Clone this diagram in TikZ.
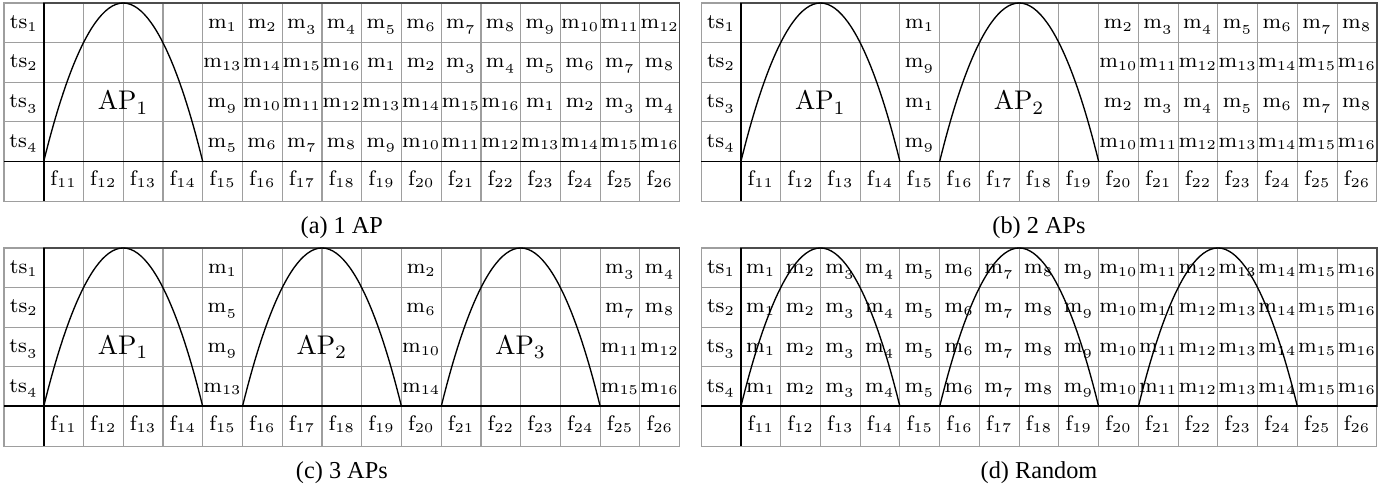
\documentclass[tikz,border=0pt]{standalone}
\usepackage{fontspec}
\newfontfamily\capfont{Liberation Serif}
% label with subscript, digits 3-9 old style
\newcommand{\lbl}[2]{$\mathrm{#1}_{\ifnum#2<3 #2\else\ifnum#2<10 \mathnormal{#2}\else #2\fi\fi}$}
\begin{document}
\begin{tikzpicture}[
	x=14.73pt, y=-14.68pt,
	gridln/.style = {draw=black!38, line width=0.4pt},
	box/.style    = {draw=black!70, line width=0.5pt},
	ax/.style     = {draw=black, line width=0.7pt},
	arch/.style   = {draw=black, line width=0.5pt},
	cell/.style   = {inner sep=0pt, anchor=base, font=\fontsize{7.8}{9}\selectfont},
	ap/.style     = {inner sep=0pt, anchor=base, font=\normalsize},
	captxt/.style = {inner sep=0pt, anchor=base, font=\capfont\fontsize{9}{11}\selectfont}
	]
	\useasboundingbox[fill=white] (0,0) rectangle (35.02,12.45);
	
	% ===== ===== ===== ===== =====
	
	% Grids, axes, row and column labels
	\foreach \p/\px/\py/\txt in {a/0.10/0.076/{(a) 1 AP}, b/17.64/0.076/{(b) 2 APs},
	                             c/0.10/6.26/{(c) 3 APs}, d/17.64/6.26/{(d) Random}}{
		\begin{scope}[shift={(\px,\py)}]
			\foreach \i in {1,...,16} \draw[gridln] (\i,0) -- (\i,5);
			\foreach \j in {1,...,4} \draw[gridln] (0,\j) -- (17,\j);
			\draw[gridln] (0,0) rectangle (17,5);
			\draw[box] (1,0) rectangle (17,4);
			\draw[ax] (1,0) -- (1,5);
			\draw[ax] (0,4) -- (17,4);
			
			\foreach \r in {1,...,4}
				\node[cell] (\p-ts\r) at (0.5,\r-0.36) {\lbl{ts}{\r}};
			\foreach \k in {1,...,16}{
				\pgfmathtruncatemacro{\fn}{\k+10}
				\node[cell] (\p-f\fn) at (\k+0.5,4.6) {\lbl{f}{\fn}};
			}
			\node[captxt] (\p-cap) at (8.5,5.82) {\txt};
		\end{scope}
	}
	
	% ===== ===== ===== ===== =====
	
	% (a) 1 AP
	\begin{scope}[shift={(0.10,0.076)}]
		\draw[arch] (1,4) parabola bend (3,0) (5,4);
		\node[ap] (a-ap1) at (3,2.7) {$\mathrm{AP}_1$};
		\foreach \r/\s in {1/0,2/12,3/8,4/4}
			\foreach \k in {5,...,16}{
				\pgfmathtruncatemacro{\v}{mod(\k-5+\s,16)+1}
				\node[cell] (a-m\r-\k) at (\k+0.5,\r-0.36) {\lbl{m}{\v}};
			}
	\end{scope}
	
	% (b) 2 APs
	\begin{scope}[shift={(17.64,0.076)}]
		\draw[arch] (1,4) parabola bend (3,0) (5,4);
		\draw[arch] (6,4) parabola bend (8,0) (10,4);
		\node[ap] (b-ap1) at (3,2.7) {$\mathrm{AP}_1$};
		\node[ap] (b-ap2) at (8,2.7) {$\mathrm{AP}_2$};
		\foreach \r/\s in {1/0,2/8,3/0,4/8}{
			\pgfmathtruncatemacro{\v}{1+\s}
			\node[cell] (b-m\r-5) at (5.5,\r-0.36) {\lbl{m}{\v}};
			\foreach \k in {10,...,16}{
				\pgfmathtruncatemacro{\v}{\k-8+\s}
				\node[cell] (b-m\r-\k) at (\k+0.5,\r-0.36) {\lbl{m}{\v}};
			}
		}
	\end{scope}
	
	% (c) 3 APs
	\begin{scope}[shift={(0.10,6.26)}]
		\draw[arch] (1,4) parabola bend (3,0) (5,4);
		\draw[arch] (6,4) parabola bend (8,0) (10,4);
		\draw[arch] (11,4) parabola bend (13,0) (15,4);
		\node[ap] (c-ap1) at (3,2.7) {$\mathrm{AP}_1$};
		\node[ap] (c-ap2) at (8,2.7) {$\mathrm{AP}_2$};
		\node[ap] (c-ap3) at (13,2.7) {$\mathrm{AP}_3$};
		\foreach \r in {1,...,4}
			\foreach \k/\n in {5/1,10/2,15/3,16/4}{
				\pgfmathtruncatemacro{\v}{\n+4*(\r-1)}
				\node[cell] (c-m\r-\k) at (\k+0.5,\r-0.36) {\lbl{m}{\v}};
			}
	\end{scope}
	
	% (d) Random
	\begin{scope}[shift={(17.64,6.26)}]
		\draw[arch] (1,4) parabola bend (3,0) (5,4);
		\draw[arch] (6,4) parabola bend (8,0) (10,4);
		\draw[arch] (11,4) parabola bend (13,0) (15,4);
		\foreach \r in {1,...,4}
			\foreach \k in {1,...,16}
				\node[cell] (d-m\r-\k) at (\k+0.5,\r-0.36) {\lbl{m}{\k}};
	\end{scope}
	
\end{tikzpicture}
\end{document}
